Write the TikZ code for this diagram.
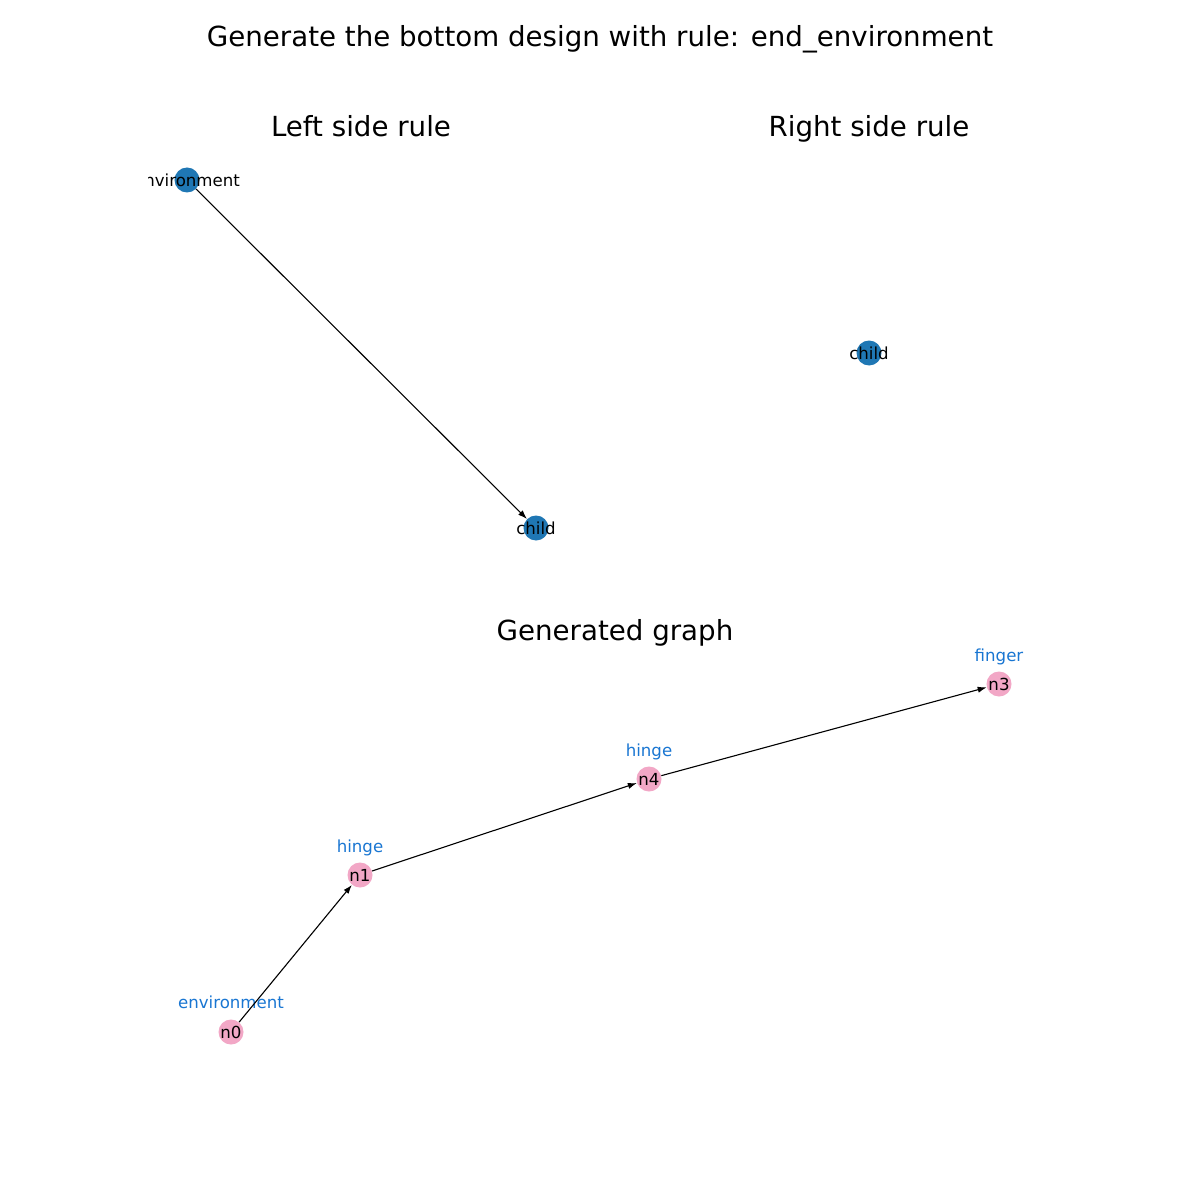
\documentclass[tikz,border=0pt]{standalone}
\usepackage{fontspec}
\setmainfont{DejaVu Sans}
\usetikzlibrary{arrows.meta}
\definecolor{nodeblue}{HTML}{1F77B4}
\definecolor{nodepink}{HTML}{F2A7C6}
\definecolor{labelblue}{HTML}{1976D2}
\newlength{\px}
\setlength{\px}{0.72bp}
\tikzset{
  bluenode/.style={circle,fill=nodeblue,minimum size=25\px,inner sep=0pt},
  pinknode/.style={circle,fill=nodepink,minimum size=25\px,inner sep=0pt},
  nodetext/.style={font=\fontsize{12}{14}\selectfont,text=black,inner sep=0pt},
  typelabel/.style={font=\fontsize{12}{14}\selectfont,text=labelblue,inner sep=0pt,anchor=base},
  heading/.style={font=\fontsize{20}{24}\selectfont,inner sep=0pt,anchor=base},
  edge/.style={line width=0.8pt,-{Latex[length=6.5pt,width=4.5pt]}}
}
\begin{document}
\begin{tikzpicture}[x=0.72bp,y=-0.72bp]
\useasboundingbox[fill=white] (0,0) rectangle (1200,1200);
% titles
\node[heading] (title) at (600,47) {Generate the bottom design with rule: end\_environment};
\node[heading] (lt) at (361,137) {Left side rule};
\node[heading] (rt) at (869,137) {Right side rule};
\node[heading] (gt) at (615,640) {Generated graph};
% left side rule
\node[bluenode] (le) at (187,180) {};
\node[bluenode] (lc) at (536,528) {};
\begin{scope}
\clip (148,150) rectangle (580,560);
\node[nodetext] (lelab) at (187,180) {environment};
\end{scope}
\node[nodetext] (lclab) at (536,528) {child};
\draw[edge] (le) -- (lc);
% right side rule
\node[bluenode] (rc) at (869,353) {};
\node[nodetext] (rclab) at (869,353) {child};
% generated graph
\node[pinknode] (n0) at (231,1032) {};
\node[pinknode] (n1) at (360,875) {};
\node[pinknode] (n4) at (649,779) {};
\node[pinknode] (n3) at (999,684) {};
\node[nodetext] at (n0) {n0};
\node[nodetext] at (n1) {n1};
\node[nodetext] at (n4) {n4};
\node[nodetext] at (n3) {n3};
\node[typelabel] (t0) at (231,1008) {environment};
\node[typelabel] (t1) at (360,852) {hinge};
\node[typelabel] (t4) at (649,756) {hinge};
\node[typelabel] (t3) at (999,661) {finger};
\draw[edge] (n0) -- (n1);
\draw[edge] (n1) -- (n4);
\draw[edge] (n4) -- (n3);
\end{tikzpicture}
\end{document}
